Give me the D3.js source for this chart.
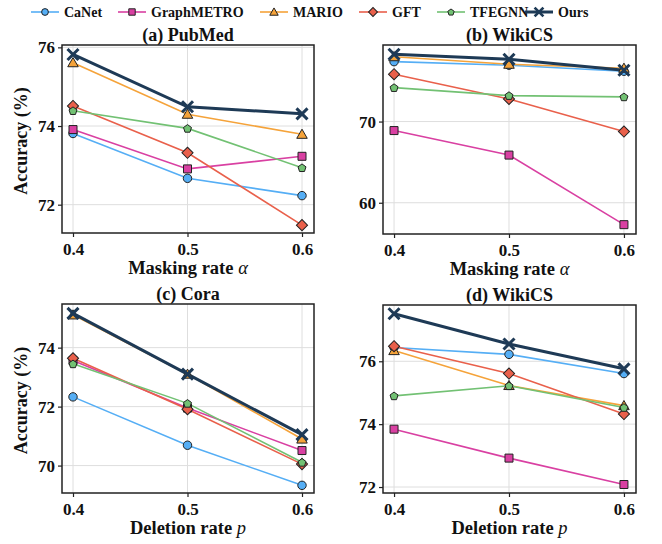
<!DOCTYPE html>
<html>
<head>
<meta charset="utf-8">
<style>
  body { margin: 0; background: #fff; }
  svg text { font-family: "Liberation Serif", "Times New Roman", serif; font-weight: bold; fill: #111; }
</style>
</head>
<body>
<script src="https://cdn.jsdelivr.net/npm/d3@7/dist/d3.min.js"></script>
<script>
// data
var rates = [0.4, 0.5, 0.6];
var methods = ["CaNet", "GraphMETRO", "MARIO", "GFT", "TFEGNN", "Ours"];

var pubmed = {
  CaNet:      [73.81, 72.67, 72.23],
  GraphMETRO: [73.91, 72.91, 73.23],
  MARIO:      [75.61, 74.30, 73.79],
  GFT:        [74.51, 73.32, 71.48],
  TFEGNN:     [74.39, 73.94, 72.94],
  Ours:       [75.82, 74.49, 74.31]
};
var wikiMask = {
  CaNet:      [77.38, 76.94, 76.20],
  GraphMETRO: [68.89, 65.87, 57.30],
  MARIO:      [77.99, 77.06, 76.57],
  GFT:        [75.83, 72.79, 68.77],
  TFEGNN:     [74.18, 73.20, 73.04],
  Ours:       [78.29, 77.67, 76.32]
};
var cora = {
  CaNet:      [72.33, 70.69, 69.33],
  GraphMETRO: [73.56, 71.95, 70.51],
  MARIO:      [75.11, 73.10, 70.90],
  GFT:        [73.64, 71.91, 70.05],
  TFEGNN:     [73.45, 72.11, 70.11],
  Ours:       [75.16, 73.10, 71.05]
};
var wikiDel = {
  CaNet:      [76.44, 76.22, 75.61],
  GraphMETRO: [73.84, 72.92, 72.08],
  MARIO:      [76.34, 75.23, 74.59],
  GFT:        [76.48, 75.61, 74.32],
  TFEGNN:     [74.90, 75.22, 74.53],
  Ours:       [77.51, 76.55, 75.76]
};

var colors = {
  CaNet: "#55aef5", GraphMETRO: "#d940a2", MARIO: "#f5a33a",
  GFT: "#e9604b", TFEGNN: "#72c173", Ours: "#1e3a56"
};

var panels = [
  {title: "(a) PubMed", data: pubmed, x0: 62, y0: 45, w: 252, h: 188,
   domain: [71.28, 76.06], ticks: [72, 74, 76], xlab: "Masking rate ", sym: "α", ylab: true},
  {title: "(b) WikiCS", data: wikiMask, x0: 383, y0: 45, w: 253, h: 189,
   domain: [56.15, 79.43], ticks: [60, 70], xlab: "Masking rate ", sym: "α", ylab: false},
  {title: "(c) Cora", data: cora, x0: 62, y0: 304, w: 252, h: 189,
   domain: [69.07, 75.48], ticks: [70, 72, 74], xlab: "Deletion rate ", sym: "p", ylab: true},
  {title: "(d) WikiCS", data: wikiDel, x0: 383, y0: 305, w: 253, h: 188,
   domain: [71.81, 77.79], ticks: [72, 74, 76], xlab: "Deletion rate ", sym: "p", ylab: false}
];

var svg = d3.select("body").append("svg")
  .attr("width", 662)
  .attr("height", 544);

function marker(g, name, k) {
  var c = colors[name];
  if (name == "Ours") {
    var s = 5.5 * k;
    g.append("path")
      .attr("d", "M" + (-s) + "," + (-s) + "L" + s + "," + s + "M" + (-s) + "," + s + "L" + s + "," + (-s))
      .attr("stroke", c).attr("stroke-width", 3 * Math.sqrt(k)).attr("fill", "none");
    return;
  }
  var path, rot = null;
  if (name == "TFEGNN") {
    // pentagon
    var r = 4.2 * k;
    var pts = d3.range(5).map(function(i) {
      var a = -Math.PI / 2 + i * 2 * Math.PI / 5;
      return [r * Math.cos(a), r * Math.sin(a) + r * 0.1];
    });
    path = "M" + pts.join("L") + "Z";
  } else if (name == "CaNet") {
    path = d3.symbol().type(d3.symbolCircle).size(56 * k * k)();
  } else if (name == "GraphMETRO") {
    path = d3.symbol().type(d3.symbolSquare).size(64 * k * k)();
  } else if (name == "GFT") {
    path = d3.symbol().type(d3.symbolSquare).size(62 * k * k)();
    rot = "rotate(45)";
  } else {
    path = d3.symbol().type(d3.symbolTriangle).size(48 * k * k)();
    rot = "translate(0," + (1 * k) + ")";
  }
  g.append("path").attr("d", path)
    .attr("fill", c).attr("stroke", "#222").attr("stroke-width", 1)
    .attr("transform", rot);
}

panels.forEach(function(p) {
  var x = d3.scaleLinear()
    .domain([0.4 - (73 - 62) / (302 - 73) * 0.2, 0.6 + (314 - 302) / (302 - 73) * 0.2])
    .range([p.x0, p.x0 + p.w]);
  var y = d3.scaleLinear().domain(p.domain).range([p.y0 + p.h, p.y0]);

  var g = svg.append("g");

  // grid
  g.selectAll(".gx").data(rates).enter().append("line")
    .attr("x1", function(d) { return x(d); }).attr("x2", function(d) { return x(d); })
    .attr("y1", p.y0).attr("y2", p.y0 + p.h)
    .attr("stroke", "#dedede").attr("stroke-width", 1);
  g.selectAll(".gy").data(p.ticks).enter().append("line")
    .attr("y1", function(d) { return y(d); }).attr("y2", function(d) { return y(d); })
    .attr("x1", p.x0).attr("x2", p.x0 + p.w)
    .attr("stroke", "#dedede").attr("stroke-width", 1);

  // axes
  var xAxis = d3.axisBottom(x).tickValues(rates).tickSize(4).tickFormat(d3.format(".1f"));
  var yAxis = d3.axisLeft(y).tickValues(p.ticks).tickSize(4).tickFormat(d3.format("d"));
  var gx = g.append("g").attr("transform", "translate(0," + (p.y0 + p.h) + ")").call(xAxis);
  var gy = g.append("g").attr("transform", "translate(" + p.x0 + ",0)").call(yAxis);
  [gx, gy].forEach(function(a) {
    a.attr("font-family", null);
    a.select(".domain").remove();
    a.selectAll("line").attr("stroke", "#222").attr("stroke-width", 1.2);
    a.selectAll("text").style("font-size", "17px").attr("fill", "#111");
  });
  gx.selectAll("text").attr("dy", "0.86em");

  // lines and markers
  var line = d3.line()
    .x(function(d, i) { return x(rates[i]); })
    .y(function(d) { return y(d); });

  methods.forEach(function(m) {
    g.append("path").datum(p.data[m])
      .attr("d", line)
      .attr("fill", "none")
      .attr("stroke", colors[m])
      .attr("stroke-width", m == "Ours" ? 3 : 1.6);
  });
  methods.forEach(function(m) {
    p.data[m].forEach(function(v, i) {
      var mg = g.append("g").attr("transform", "translate(" + x(rates[i]) + "," + y(v) + ")");
      marker(mg, m, 1);
    });
  });

  // frame
  g.append("rect")
    .attr("x", p.x0).attr("y", p.y0).attr("width", p.w).attr("height", p.h)
    .attr("fill", "none").attr("stroke", "#222").attr("stroke-width", 1.5);

  // title
  g.append("text")
    .attr("x", p.x0 + p.w / 2).attr("y", p.y0 - 4)
    .attr("text-anchor", "middle")
    .style("font-size", "18px")
    .text(p.title);

  // x label
  var xl = g.append("text")
    .attr("x", p.x0 + p.w / 2).attr("y", p.y0 + p.h + 41)
    .attr("text-anchor", "middle")
    .style("font-size", "18.5px");
  xl.append("tspan").text(p.xlab);
  xl.append("tspan").style("font-style", "italic").style("font-weight", "normal").text(p.sym);

  if (p.ylab) {
    g.append("text")
      .attr("transform", "translate(" + 27 + "," + (p.y0 + p.h / 2 + 2) + ") rotate(-90)")
      .attr("text-anchor", "middle")
      .style("font-size", "18px")
      .text("Accuracy (%)");
  }
});

// legend
var legX = [31, 118, 260, 359, 437, 525];
var legend = svg.selectAll(".legend")
  .data(methods)
  .enter().append("g")
  .attr("class", "legend")
  .attr("transform", function(d, i) { return "translate(" + legX[i] + ",12)"; });

legend.append("line")
  .attr("x1", 0).attr("x2", 28)
  .attr("stroke", function(d) { return colors[d]; })
  .attr("stroke-width", function(d) { return d == "Ours" ? 3 : 1.6; });

legend.each(function(d) {
  var mg = d3.select(this).append("g").attr("transform", "translate(14,0)");
  marker(mg, d, 0.8);
});

legend.append("text")
  .attr("x", 33)
  .attr("dy", "0.35em")
  .style("font-size", "14px")
  .text(function(d) { return d; });
</script>
</body>
</html>
